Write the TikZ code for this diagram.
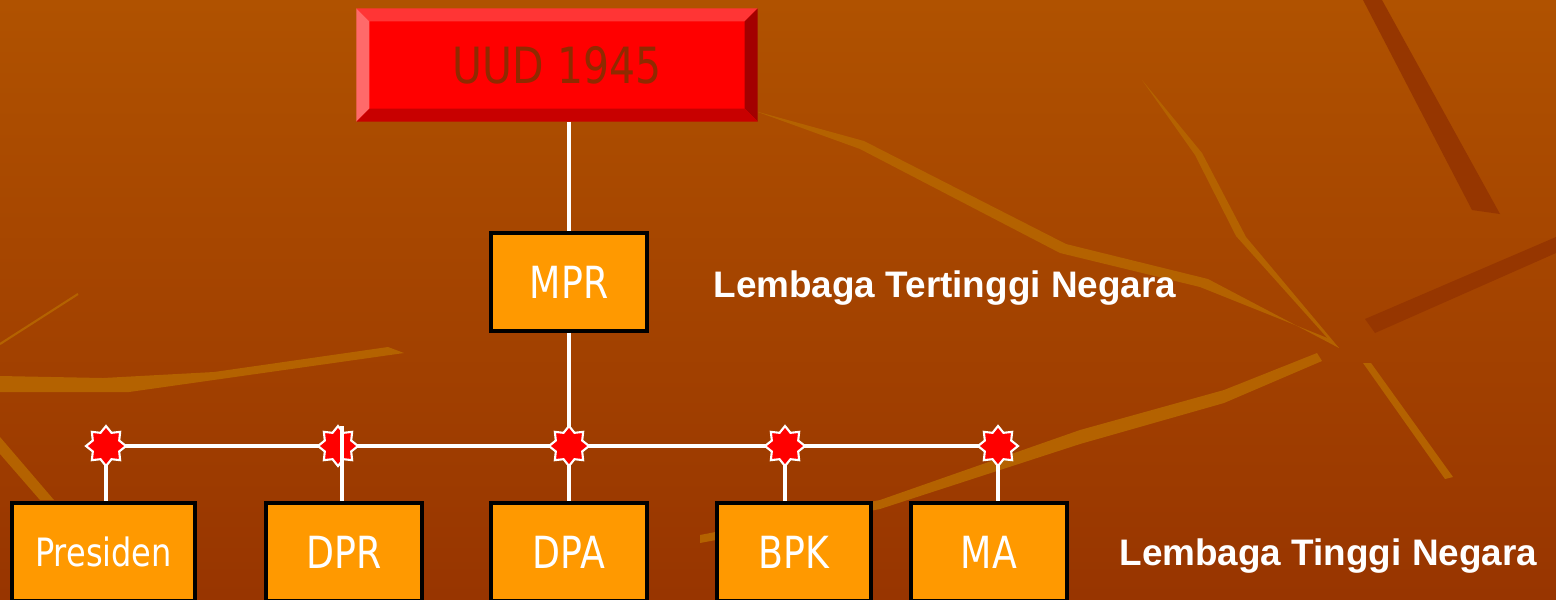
\documentclass[tikz,border=0pt]{standalone}
\usepackage{fontspec}
\usepackage{tikz}
\usetikzlibrary{positioning,calc,shapes.geometric}
\newfontfamily\boxfont[FakeStretch=0.82]{DejaVu Sans}
\newfontfamily\labelfont{Liberation Sans}
\definecolor{bgtop}{HTML}{B05200}
\definecolor{bgbottom}{HTML}{983500}
\definecolor{veinlight}{HTML}{B46200}
\definecolor{veindark}{HTML}{963600}
\definecolor{uudface}{HTML}{FF0000}
\definecolor{uudtop}{HTML}{FF3535}
\definecolor{uudleft}{HTML}{FF6A6A}
\definecolor{uudright}{HTML}{A30000}
\definecolor{uudbottom}{HTML}{C80000}
\definecolor{uudtext}{HTML}{8F2A00}
\definecolor{organfill}{HTML}{FF9900}
\definecolor{jointred}{HTML}{FF0000}
\tikzset{
  organ/.style={
    rectangle,
    draw=black,
    line width=1pt,
    fill=organfill,
    text=white,
    align=center,
    inner sep=0pt,
    minimum height=0.98cm,
    minimum width=1.56cm,
    font=\boxfont\fontsize{12.6}{15}\selectfont
  },
  charter/.style={
    rectangle,
    fill=uudface,
    text=uudtext,
    inner sep=0pt,
    minimum height=1.12cm,
    minimum width=4.0cm,
    font=\boxfont\fontsize{14.2}{17}\selectfont
  },
  joint/.style={
    star,
    star points=8,
    star point ratio=1.4,
    minimum size=0.40cm,
    inner sep=0pt,
    fill=jointred,
    draw=white,
    line width=0.6pt
  },
  link/.style={draw=white, line width=0.9pt},
  tier/.style={text=white, inner sep=0pt, font=\labelfont\bfseries\fontsize{10.5}{12}\selectfont}
}
\def\bev{0.13}

\begin{document}
\begin{tikzpicture}
  \clip (0,0) rectangle (15.56,5.99);
  % background with leaf veins
  \shade[top color=bgtop, bottom color=bgbottom] (0,0) rectangle (15.56,5.99);
  \fill[veindark] (13.63,5.99) -- (13.82,5.99) -- (15.0,3.85) -- (14.72,3.89) -- cycle;
  \fill[veindark] (13.65,2.80) -- (15.56,3.62) -- (15.56,3.46) -- (13.75,2.66) -- cycle;
  \fill[veinlight] (7.55,4.88) -- (8.64,4.58) -- (10.66,3.55) -- (12.08,3.20) -- (13.39,2.51) -- (13.30,2.60) -- (12.0,3.12) -- (10.6,3.46) -- (8.6,4.50) -- cycle;
  \fill[veinlight] (11.42,5.19) -- (12.02,4.46) -- (12.46,3.62) -- (13.39,2.51) -- (13.30,2.58) -- (12.36,3.63) -- (11.95,4.44) -- cycle;
  \fill[veinlight] (13.17,2.46) -- (12.24,2.09) -- (10.8,1.69) -- (8.8,0.99) -- (7.0,0.64) -- (7.0,0.56) -- (8.8,0.90) -- (10.8,1.55) -- (12.24,1.96) -- (13.22,2.38) -- cycle;
  \fill[veinlight] (13.71,2.36) -- (14.53,1.22) -- (14.45,1.20) -- (13.63,2.36) -- cycle;
  \fill[veinlight] (0,2.23) -- (1.03,2.21) -- (2.14,2.27) -- (3.88,2.52) -- (4.04,2.46) -- (1.29,2.07) -- (0,2.07) -- cycle;
  \fill[veinlight] (0,1.62) -- (0.54,0.99) -- (0.40,0.99) -- (0,1.45) -- cycle;
  \draw[veinlight, line width=0.6pt] (0,2.55) -- (0.78,3.05);

  % charter box with bevelled edge
  \node[charter] (uud) at (5.57,5.34) {UUD 1945};
  \fill[uudtop] (uud.north west) -- (uud.north east) -- ($(uud.north east)+(-\bev,-\bev)$) -- ($(uud.north west)+(\bev,-\bev)$) -- cycle;
  \fill[uudleft] (uud.north west) -- ($(uud.north west)+(\bev,-\bev)$) -- ($(uud.south west)+(\bev,\bev)$) -- (uud.south west) -- cycle;
  \fill[uudright] (uud.north east) -- (uud.south east) -- ($(uud.south east)+(-\bev,\bev)$) -- ($(uud.north east)+(-\bev,-\bev)$) -- cycle;
  \fill[uudbottom] (uud.south west) -- ($(uud.south west)+(\bev,\bev)$) -- ($(uud.south east)+(-\bev,\bev)$) -- (uud.south east) -- cycle;

  \node[organ] (mpr) at (5.69,3.17) {MPR};
  \node[organ, minimum width=1.83cm, font=\boxfont\fontsize{11.1}{13}\selectfont] (pres) at (1.035,0.47) {Presiden};
  \node[organ] (dpr) at (3.44,0.47) {DPR};
  \node[organ] (dpa) at (5.69,0.47) {DPA};
  \node[organ, minimum width=1.54cm] (bpk) at (7.94,0.47) {BPK};
  \node[organ] (ma) at (9.89,0.47) {MA};

  \node[tier, right=0.64cm of mpr, yshift=-0.06cm] (highest) {Lembaga Tertinggi Negara};
  \node[tier, right=0.5cm of ma, yshift=-0.04cm] (high) {Lembaga Tinggi Negara};

  % junction points on the bar
  \coordinate (j1) at (1.06,1.53);
  \coordinate (j2) at (3.38,1.53);
  \coordinate (j3) at (5.69,1.53);
  \coordinate (j4) at (7.85,1.53);
  \coordinate (j5) at (9.98,1.53);

  \draw[link] (uud.south -| mpr) -- (mpr.north);
  \draw[link] (mpr.south) -- (dpa.north);
  \draw[link] (j1) -- (j5);
  \draw[link] (j1) -- (j1 |- pres.north);
  \draw[link] (j4) -- (j4 |- bpk.north);
  \draw[link] (j5) -- (j5 |- ma.north);
  \foreach \j in {j1,j2,j3,j4,j5}
    \node[joint] at (\j) {};
  \draw[link] ($(j2)+(0.04,0.2)$) -- ($(j2 |- dpr.north)+(0.04,0)$);
\end{tikzpicture}
\end{document}
